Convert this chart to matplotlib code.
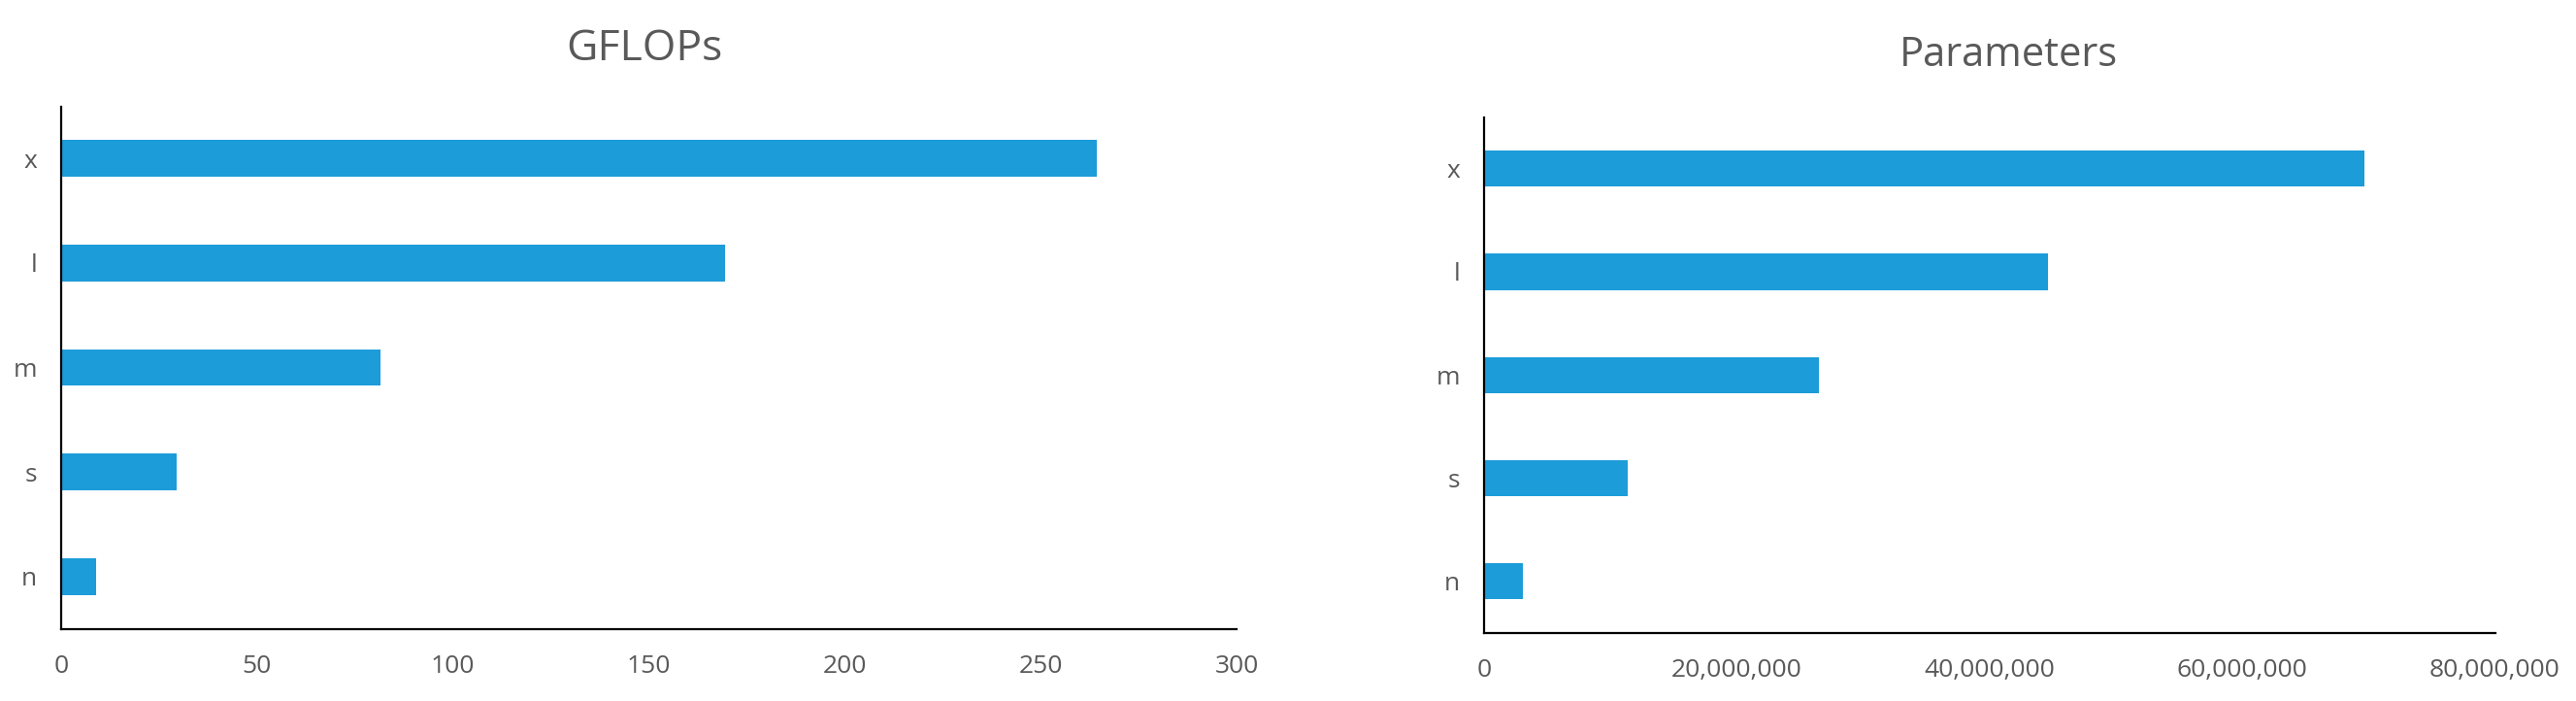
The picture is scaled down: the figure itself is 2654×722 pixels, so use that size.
import matplotlib
matplotlib.use("Agg")
import matplotlib.pyplot as plt
from matplotlib.ticker import FuncFormatter

plt.rcParams['font.family'] = ['Open Sans', 'DejaVu Sans']

categories = ["n", "s", "m", "l", "x"]
gflops = [8.8, 29.6, 81.6, 169.5, 264.3]
params = [3.1e6, 11.4e6, 26.5e6, 44.6e6, 69.7e6]

gflops_ticks = [0, 50, 100, 150, 200, 250, 300]
params_ticks = [0, 20e6, 40e6, 60e6, 80e6]

BAR = "#1C9CD8"
GRAY = "#595959"
W, H = 2654, 722
fig = plt.figure(figsize=(W / 100, H / 100), dpi=100)

ax1 = fig.add_axes([63 / W, 1 - 647.5 / H, (1274 - 63) / W, (647.5 - 109.5) / H])
ax2 = fig.add_axes([1529 / W, 1 - 652 / H, (2570.5 - 1529) / W, (652 - 120.5) / H])

for ax, vals, ticks in [(ax1, gflops, gflops_ticks), (ax2, params, params_ticks)]:
    ax.barh(range(len(categories)), vals, height=0.35, color=BAR)
    ax.set_yticks(range(len(categories)))
    ax.set_yticklabels(categories)
    ax.set_ylim(-0.5, len(categories) - 0.5)
    ax.set_xticks(ticks)
    ax.set_xlim(ticks[0], ticks[-1])
    for s in ["top", "right"]:
        ax.spines[s].set_visible(False)
    for s in ["left", "bottom"]:
        ax.spines[s].set_linewidth(1.6)
        ax.spines[s].set_color("black")
    ax.tick_params(axis="both", length=0, labelsize=19, labelcolor=GRAY)
    ax.tick_params(axis="y", pad=18)
    ax.tick_params(axis="x", pad=19)

ax2.xaxis.set_major_formatter(FuncFormatter(lambda v, p: "0" if v == 0 else f"{int(v):,}"))

fig.text(663.5 / W, 1 - 62 / H, "GFLOPs", ha="center", va="baseline",
         fontsize=32, color=GRAY)
fig.text(2069 / W, 1 - 68 / H, "Parameters", ha="center", va="baseline",
         fontsize=30, color=GRAY)

fig.savefig("out.png", dpi=100, facecolor="white")
